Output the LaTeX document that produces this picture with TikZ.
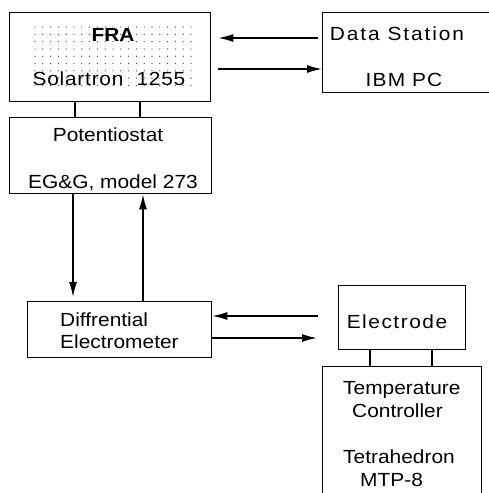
\documentclass[tikz,border=0pt]{standalone}
\usepackage{fontspec}
\setmainfont{Liberation Sans}[FakeStretch=1.1]
\usetikzlibrary{arrows.meta}

\begin{document}
\begin{tikzpicture}[
    x=1pt, y=-1pt,
    box/.style={rectangle, draw, line width=1.3pt, inner sep=0pt, anchor=north west},
    txt/.style={inner sep=0pt, anchor=base, font=\fontsize{19}{23}\selectfont},
    ltxt/.style={txt, anchor=base west},
    arr/.style={-{Latex[length=15pt, width=8pt]}, line width=1.5pt},
    link/.style={line width=1.3pt}
]
\useasboundingbox (0,0) rectangle (489,493);
\clip (0,0) rectangle (489,493);

% stipple of the FRA box
\foreach \i in {0,...,20}
    \foreach \j in {0,...,8}
        \fill[black!75] ({35+\i*7.8},{27+\j*7.3}) circle (0.65pt);

% boxes
\node[box, minimum width=201pt, minimum height=89pt] (fra) at (9,12) {};
\node[box, minimum width=180pt, minimum height=80pt] (ds) at (322,12) {};
\node[box, minimum width=202pt, minimum height=76pt] (pot) at (9,117) {};
\node[box, minimum width=184pt, minimum height=56pt] (diff) at (27,301) {};
\node[box, minimum width=127pt, minimum height=64pt] (elec) at (338,285) {};
\node[box, minimum width=159pt, minimum height=140pt] (temp) at (322,366) {};

% texts
\node[txt, font=\fontsize{19}{23}\selectfont\bfseries] (fraA) at (113,41) {FRA};
\node[txt] (fraB) at (109,85) {\addfontfeature{LetterSpace=4}Solartron\ \ 1255};
\node[txt] (dsA) at (397,40) {\addfontfeature{LetterSpace=10}Data Station};
\node[txt] (dsB) at (404,86) {\addfontfeature{LetterSpace=6}IBM PC};
\node[txt] (potA) at (108,141) {Potentiostat};
\node[txt] (potB) at (113,188) {EG\&G, model 273};
\node[ltxt] (diffA) at (60,326) {Diffrential};
\node[ltxt] (diffB) at (60,348) {Electrometer};
\node[txt] (elecA) at (397,328) {\addfontfeature{LetterSpace=8}Electrode};
\node[ltxt] (tempA) at (343,394) {Temperature};
\node[ltxt] (tempB) at (352,417) {Controller};
\node[ltxt] (tempC) at (343,463) {Tetrahedron};
\node[ltxt] (tempD) at (360,486) {MTP-8};

% connectors
\draw[arr, shorten <=4pt, shorten >=7pt] (ds.west |- 0,38) -- (fra.east |- 0,38);
\draw[arr, shorten <=7pt] (fra.east |- 0,69) -- (ds.west |- 0,69);
\draw[link] (fra.south -| 75,0) -- (pot.north -| 75,0);
\draw[link] (fra.south -| 140,0) -- (pot.north -| 140,0);
\draw[arr, shorten >=4pt] (pot.south -| 73,0) -- (diff.north -| 73,0);
\draw[arr] (diff.north -| 143,0) -- (pot.south -| 143,0);
\draw[arr, shorten <=20pt] (elec.west |- 0,316) -- (diff.east |- 0,316);
\draw[arr, shorten >=21pt] (diff.east |- 0,338) -- (elec.west |- 0,338);
\draw[link] (elec.south -| 370,0) -- (temp.north -| 370,0);
\draw[link] (elec.south -| 432,0) -- (temp.north -| 432,0);

\end{tikzpicture}
\end{document}
